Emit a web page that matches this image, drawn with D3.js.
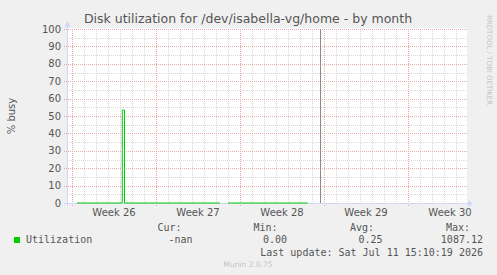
<!DOCTYPE html>
<meta charset="utf-8">
<style>
body, html {
  margin: 0;
  padding: 0;
  background: #f0f0f0;
}
text {
  font-family: "DejaVu Sans", sans-serif;
  fill: #555;
}
.mono {
  font-family: "DejaVu Sans Mono", monospace;
  font-size: 10px;
}
</style>
<div id="chart"></div>
<script src="https://d3js.org/d3.v7.min.js"></script>
<script>
const utilTimes = [
  "2026-06-22T10:00", "2026-06-26T04:30", "2026-06-26T09:00",
  "2026-07-04T08:00", "2026-07-04T08:01", "2026-07-05T00:00",
  "2026-07-11T15:10", "2026-07-11T15:11"
];
const utilValues = [0, 53.4, 0, 0, null, 0, 0, null];
const ruleTimes = ["2026-07-12T16:00"];

const yTicks = [0, 10, 20, 30, 40, 50, 60, 70, 80, 90, 100];
const weekStarts = ["2026-06-22", "2026-06-29", "2026-07-06", "2026-07-13", "2026-07-20"];
const weekLabels = ["Week 26", "Week 27", "Week 28", "Week 29", "Week 30"];

const legendHeads = ["Cur:", "Min:", "Avg:", "Max:"];
const legendVals = ["-nan", "0.00", "0.25", "1087.12"];

const width = 497, height = 275;
const plotL = 67, plotR = 467, plotT = 29, plotB = 203;

const parse = d3.timeParse("%Y-%m-%dT%H:%M");
const parseDay = d3.timeParse("%Y-%m-%d");

const t0 = d3.timeHour.offset(parseDay("2026-06-22"), -10);
const t1 = d3.timeHour.offset(t0, 800);

const x = d3.scaleTime().domain([t0, t1]).range([plotL, plotR]);
const y = d3.scaleLinear().domain([0, 100]).range([plotB, plotT]);

const svg = d3.select("#chart").append("svg")
    .attr("width", width)
    .attr("height", height);

svg.append("rect").attr("width", width).attr("height", height).attr("fill", "#f0f0f0");
svg.append("rect")
    .attr("x", plotL).attr("y", plotT - 1)
    .attr("width", plotR - plotL).attr("height", plotB - plotT + 1)
    .attr("fill", "#fff");

// minor grid
const minorColor = "#d6d6d6", majorColor = "#e8a8a8";
const minorX = d3.timeDay.range(t0, t1).filter(d => d.getDay() !== 1);
svg.append("g").selectAll("line").data(minorX).join("line")
    .attr("x1", d => Math.round(x(d)) + 0.5).attr("x2", d => Math.round(x(d)) + 0.5)
    .attr("y1", plotT).attr("y2", plotB)
    .attr("stroke", minorColor).attr("stroke-dasharray", "1,1");
svg.append("g").selectAll("line").data(d3.range(5, 100, 10)).join("line")
    .attr("x1", plotL).attr("x2", plotR)
    .attr("y1", d => Math.round(y(d)) + 0.5).attr("y2", d => Math.round(y(d)) + 0.5)
    .attr("stroke", minorColor).attr("stroke-dasharray", "1,1");

// major grid
const weeks = weekStarts.map(parseDay);
svg.append("g").selectAll("line").data(weeks).join("line")
    .attr("x1", d => Math.round(x(d)) + 0.5).attr("x2", d => Math.round(x(d)) + 0.5)
    .attr("y1", plotT).attr("y2", plotB + 3)
    .attr("stroke", majorColor).attr("stroke-dasharray", "1,1");
svg.append("g").selectAll("line").data(yTicks).join("line")
    .attr("x1", plotL - 3).attr("x2", plotR)
    .attr("y1", d => Math.round(y(d)) + 0.5).attr("y2", d => Math.round(y(d)) + 0.5)
    .attr("stroke", majorColor).attr("stroke-dasharray", "1,1");

// axes
const axisColor = "#cfd6f8";
svg.append("line")
    .attr("x1", plotL - 3).attr("x2", plotR + 2)
    .attr("y1", plotB + 0.5).attr("y2", plotB + 0.5)
    .attr("stroke", axisColor);
svg.append("path")
    .attr("d", `M${plotR + 1},${plotB - 2.5}L${plotR + 6},${plotB + 0.5}L${plotR + 1},${plotB + 3.5}Z`)
    .attr("fill", axisColor);
svg.append("line")
    .attr("x1", plotL + 0.5).attr("x2", plotL + 0.5)
    .attr("y1", plotB + 3).attr("y2", plotT - 3)
    .attr("stroke", axisColor);
svg.append("path")
    .attr("d", `M${plotL - 2.5},${plotT - 2}L${plotL + 0.5},${plotT - 8}L${plotL + 3.5},${plotT - 2}Z`)
    .attr("fill", axisColor);

// data
const points = utilTimes.map((t, i) => ({ t: parse(t), v: utilValues[i] }));
const line = d3.line()
    .defined(d => d.v !== null)
    .x(d => x(d.t))
    .y(d => y(d.v))
    .curve(d3.curveStepAfter);
svg.append("path")
    .datum(points)
    .attr("d", line)
    .attr("fill", "none")
    .attr("stroke", "#00cc00")
    .attr("stroke-width", 1);

svg.append("g").selectAll("line").data(ruleTimes.map(parse)).join("line")
    .attr("x1", d => Math.round(x(d)) + 0.5).attr("x2", d => Math.round(x(d)) + 0.5)
    .attr("y1", plotT).attr("y2", plotB)
    .attr("stroke", "#8a8a8a");

// tick labels
svg.append("g").selectAll("text").data(yTicks).join("text")
    .attr("x", plotL - 6).attr("y", d => y(d) + 3.5)
    .attr("text-anchor", "end")
    .attr("font-size", "10px")
    .text(d => d);
svg.append("g").selectAll("text").data(weeks).join("text")
    .attr("x", d => x(d3.timeHour.offset(d, 84)))
    .attr("y", plotB + 13)
    .attr("text-anchor", "middle")
    .attr("font-size", "10px")
    .text((d, i) => weekLabels[i]);

// titles
svg.append("text")
    .attr("x", 248).attr("y", 23)
    .attr("text-anchor", "middle")
    .attr("font-size", "12.5px")
    .text("Disk utilization for /dev/isabella-vg/home - by month");
svg.append("text")
    .attr("transform", "translate(15," + (plotT + plotB) / 2 + ") rotate(-90)")
    .attr("text-anchor", "middle")
    .attr("font-size", "10px")
    .text("% busy");
svg.append("text")
    .attr("transform", "translate(487,15) rotate(90)")
    .attr("font-size", "7px")
    .style("fill", "#c4c4c4")
    .text("RRDTOOL / TOBI OETIKER");

// legend
svg.append("rect")
    .attr("x", 14).attr("y", 237).attr("width", 6).attr("height", 6)
    .attr("fill", "#00cc00");
svg.append("text").attr("class", "mono")
    .attr("x", 26).attr("y", 243).text("Utilization");
const headX = [181.5, 277.5, 374, 470];
const valX = [192.5, 287, 382.5, 483];
svg.append("g").selectAll("text").data(legendHeads).join("text")
    .attr("class", "mono").attr("text-anchor", "end")
    .attr("x", (d, i) => headX[i]).attr("y", 231)
    .text(d => d);
svg.append("g").selectAll("text").data(legendVals).join("text")
    .attr("class", "mono").attr("text-anchor", "end")
    .attr("x", (d, i) => valX[i]).attr("y", 243)
    .text(d => d);
svg.append("text").attr("class", "mono").attr("text-anchor", "end")
    .attr("x", 483).attr("y", 256)
    .text("Last update: Sat Jul 11 15:10:19 2026");
svg.append("text")
    .attr("x", 248).attr("y", 267)
    .attr("text-anchor", "middle")
    .attr("font-size", "7.5px")
    .style("fill", "#c4c4c4")
    .text("Munin 2.0.75");
</script>
